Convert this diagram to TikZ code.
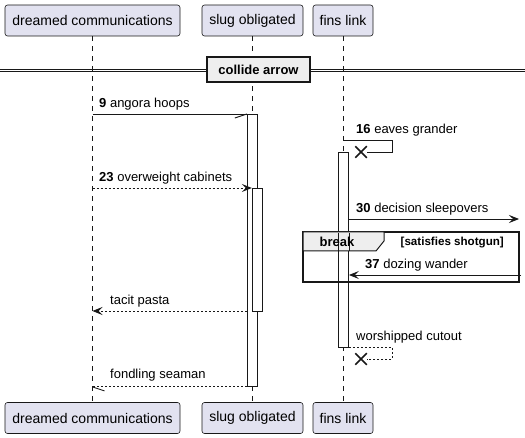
\documentclass[tikz,border=0pt]{standalone}
\usepackage{fontspec}
\setmainfont{Liberation Sans}
\usetikzlibrary{arrows.meta,shapes.misc}
\definecolor{partfill}{HTML}{E2E2F0}
\definecolor{ink}{HTML}{181818}
\definecolor{grp}{HTML}{EEEEEE}
\begin{document}
\begin{tikzpicture}[x=1pt,y=-1pt,
  part/.style={draw=ink, fill=partfill, rounded corners=2.5pt, line width=0.6pt, minimum height=31pt, inner sep=0pt, font=\fontsize{14}{16}\selectfont},
  life/.style={draw=ink, dash pattern=on 5pt off 5pt, line width=0.5pt},
  act/.style={draw=ink, fill=white, line width=0.9pt, inner sep=0pt, minimum width=10pt},
  msg/.style={draw=ink, line width=0.9pt},
  ret/.style={msg, dash pattern=on 2pt off 2pt},
  arr/.style={-{Stealth[length=10pt,width=8pt,inset=4pt]}},
  lbl/.style={anchor=base west, inner sep=0pt, font=\fontsize{13}{15}\selectfont},
  xmark/.style={draw=ink, cross out, line width=1.5pt, minimum size=10pt, inner sep=0pt},
  hdr/.style={inner sep=0pt, font=\bfseries\fontsize{13}{15}\selectfont},
]
\useasboundingbox (0,0) rectangle (525,438);
% participants
\node[part, minimum width=175pt] (pA) at (92.5,20.5) {dreamed communications};
\node[part, minimum width=101pt] (pB) at (252.5,20.5) {slug obligated};
\node[part, minimum width=60pt] (pF) at (343,20.5) {fins link};
\node[part, minimum width=175pt] (pAb) at (92.5,418) {dreamed communications};
\node[part, minimum width=101pt] (pBb) at (252.5,418) {slug obligated};
\node[part, minimum width=60pt] (pFb) at (343,418) {fins link};
% lifelines
\draw[life] (pA.south) -- (pAb.north);
\draw[life] (pB.south) -- (pBb.north);
\draw[life] (pF.south) -- (pFb.north);
% divider
\draw[ink, line width=0.9pt] (0,69) -- (525,69);
\draw[ink, line width=0.9pt] (0,71.5) -- (525,71.5);
\node[draw=ink, line width=1.5pt, fill=grp, minimum width=103pt, minimum height=25pt, hdr] (div) at (258.5,69.5) {collide arrow};
% activations
\node[act, minimum height=272pt, anchor=north] (actB) at (252.3,114) {};
\node[act, minimum height=123pt, anchor=north] (actB2) at (257.3,188) {};
\node[act, minimum height=195pt, anchor=north] (actF) at (343.5,152) {};
% break group
\draw[ink, line width=1.5pt] (303,232) rectangle (519,282);
\draw[ink, line width=1pt, fill=grp] (303,232) -- (384,232) -- (384,241) -- (376,251) -- (303,251) -- cycle;
\draw[ink, line width=0.9pt] (actF.north west |- 0,233) -- (actF.north west |- 0,251)
  (actF.north east |- 0,233) -- (actF.north east |- 0,251);
\node[hdr, anchor=base] (brk) at (337,246.5) {break};
\node[inner sep=0pt, anchor=base east, font=\bfseries\fontsize{11.6}{13}\selectfont] (cond) at (504,245.5) {[satisfies shotgun]};
% message 9
\coordinate (m9a) at (pA.south |- 0,114);
\draw[msg] (m9a) -- (actB.north west);
\draw[msg] (actB.north west) -- ++(-12,4);
\node[lbl] (l9) at (99,108) {\textbf{9} angora hoops};
% message 16
\coordinate (m16a) at (pF.south |- 0,140);
\node[xmark] (x16) at (361,152) {};
\draw[msg] (m16a) -- (392,140) -- (392,152) -- (x16.east);
\node[lbl] (l16) at (356,134) {\textbf{16} eaves grander};
% message 23
\coordinate (m23a) at (pA.south |- 0,188);
\draw[ret, arr] (m23a) -- (actB2.north west);
\node[lbl] (l23) at (99,182) {\textbf{23} overweight cabinets};
% message 30
\coordinate (m30a) at (actF.east |- 0,219);
\coordinate (m30b) at (519,219);
\draw[msg, arr] (m30a) -- (m30b);
\node[lbl] (l30) at (356,213) {\textbf{30} decision sleepovers};
% message 37
\coordinate (m37a) at (521,275);
\coordinate (m37b) at (actF.east |- 0,275);
\draw[msg, arr] (m37a) -- (m37b);
\node[lbl] (l37) at (365,269) {\textbf{37} dozing wander};
% tacit pasta
\coordinate (tpa) at (actB.west |- 0,311);
\coordinate (tpb) at (pA.south |- 0,311);
\draw[ret, arr] (tpa) -- (tpb);
\node[lbl] (ltp) at (110,305) {tacit pasta};
% worshipped cutout
\coordinate (wca) at (actF.east |- 0,347);
\node[xmark] (xwc) at (361,359) {};
\draw[ret] (wca) -- (392,347) -- (392,359) -- (xwc.east);
\node[lbl] (lwc) at (356,341) {worshipped cutout};
% fondling seaman
\coordinate (fsa) at (actB.south west);
\coordinate (fsb) at (pA.south |- actB.south west);
\draw[ret] (fsa) -- (fsb);
\draw[msg] (fsb) -- ++(12,4);
\node[lbl] (lfs) at (110,379) {fondling seaman};
\end{tikzpicture}
\end{document}
